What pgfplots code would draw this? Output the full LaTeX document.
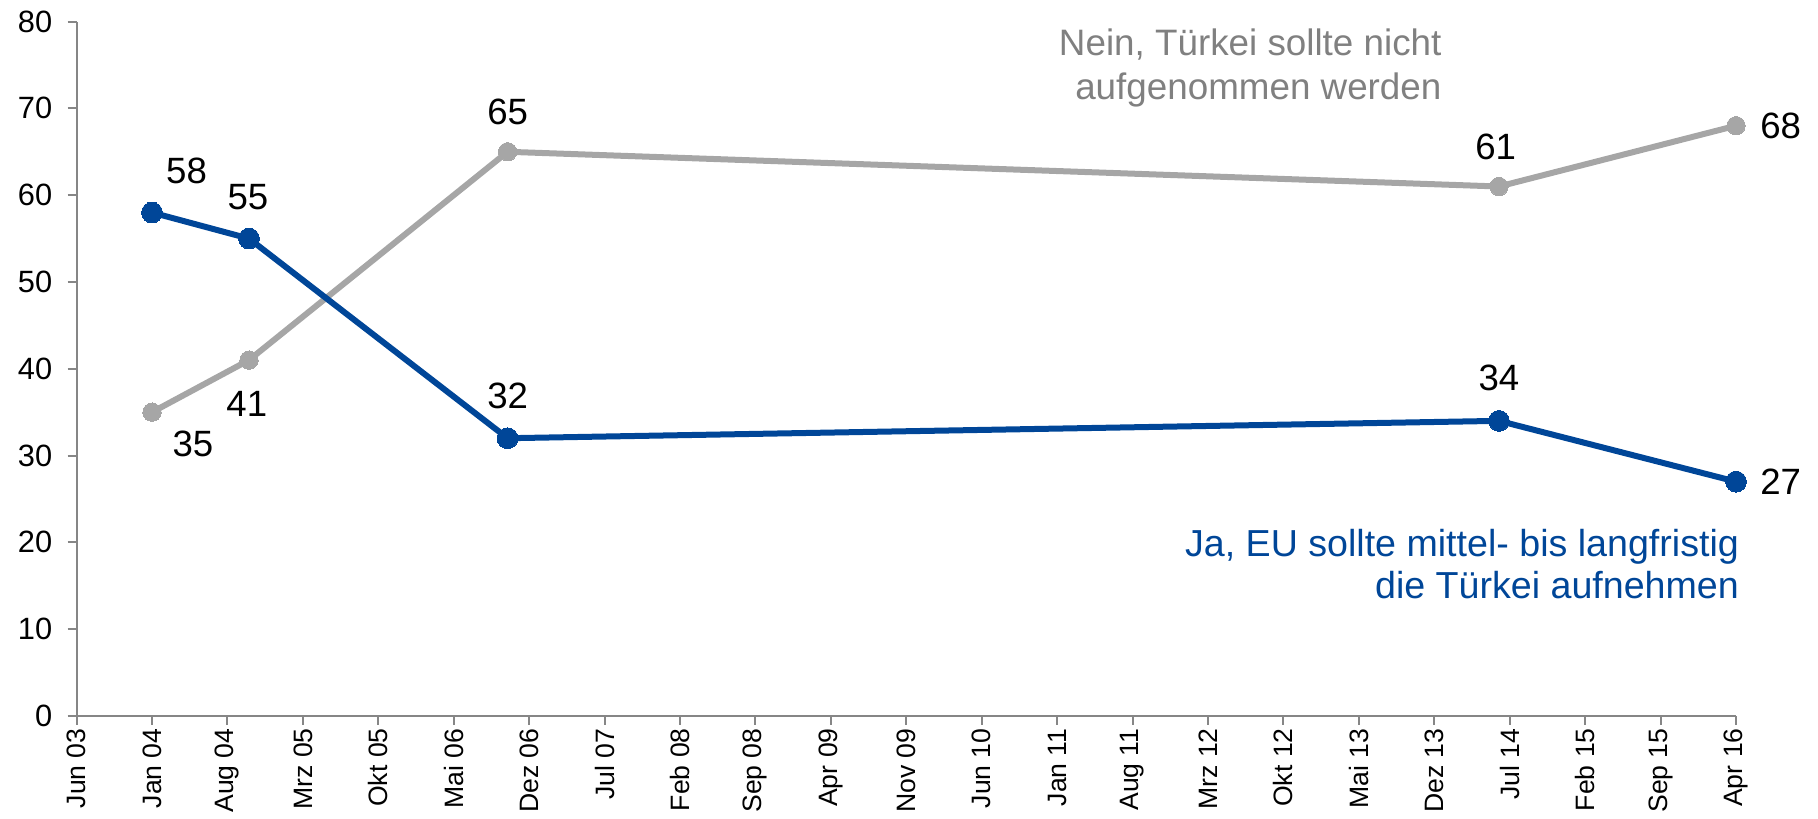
\documentclass[border=0pt]{standalone}
\usepackage{pgfplots}
\pgfplotsset{compat=1.18}
\usepackage{fontspec}
\setmainfont{Liberation Sans}
\definecolor{jablue}{RGB}{0,70,152}
\definecolor{neingray}{RGB}{166,166,166}
\definecolor{txtgray}{RGB}{128,128,128}
\definecolor{axgray}{RGB}{134,134,134}
\begin{document}
\begin{tikzpicture}
\begin{axis}[
  scale only axis,
  width=829.7pt, height=347.2pt,
  xmin=0, xmax=154, ymin=0, ymax=80,
  axis lines=left,
  axis line style={axgray, line width=1pt, -},
  every tick/.style={axgray, line width=1pt},
  major tick length=4.5pt,
  tick align=outside,
  ytick={0,10,...,80},
  xtick={0,7,...,154},
  xticklabels={Jun 03,Jan 04,Aug 04,Mrz 05,Okt 05,Mai 06,Dez 06,Jul 07,Feb 08,Sep 08,Apr 09,Nov 09,Jun 10,Jan 11,Aug 11,Mrz 12,Okt 12,Mai 13,Dez 13,Jul 14,Feb 15,Sep 15,Apr 16},
  xticklabel style={rotate=90, anchor=east, font=\fontsize{13.3}{15}\selectfont, inner sep=1.5pt},
  yticklabel style={font=\fontsize{15.4}{17}\selectfont, inner sep=2pt, xshift=-5.5pt},
  /pgf/number format/assume math mode=true,
  clip=false,
]
\addplot[neingray, line width=3pt, mark=*, mark size=4.6pt, mark options={fill=neingray, draw=neingray, line width=0pt}]
  coordinates {(7,35) (16,41) (40,65) (132,61) (154,68)};
\addplot[jablue, line width=3pt, mark=*, mark size=5.2pt, mark options={fill=jablue, draw=jablue, line width=0pt}]
  coordinates {(7,58) (16,55) (40,32) (132,34) (154,27)};
\begin{scope}[every node/.style={font=\fontsize{18.3}{20}\selectfont, text=black}]
\node at (axis cs:10.2,62.8) {58};
\node at (axis cs:15.9,59.8) {55};
\node at (axis cs:10.8,31.4) {35};
\node at (axis cs:15.8,36.0) {41};
\node at (axis cs:40,69.6) {65};
\node at (axis cs:40,36.9) {32};
\node at (axis cs:131.7,65.6) {61};
\node at (axis cs:132,38.9) {34};
\node[anchor=west] at (axis cs:155.6,68) {68};
\node[anchor=west] at (axis cs:155.6,27) {27};
\end{scope}
\node[anchor=east, align=right, text=txtgray, font=\fontsize{18.4}{22}\selectfont, inner sep=0pt]
  at (axis cs:126.7,74.6) {Nein, Türkei sollte nicht\\aufgenommen werden};
\node[anchor=east, align=right, text=jablue, font=\fontsize{18.8}{21}\selectfont, inner sep=0pt]
  at (axis cs:154.3,17.5) {Ja, EU sollte mittel- bis langfristig\\die Türkei aufnehmen};
\end{axis}
\path ([xshift=-38.3pt,yshift=-51.5pt]current axis.south west) rectangle ([xshift=41pt,yshift=10.8pt]current axis.north east);
\end{tikzpicture}
\end{document}
